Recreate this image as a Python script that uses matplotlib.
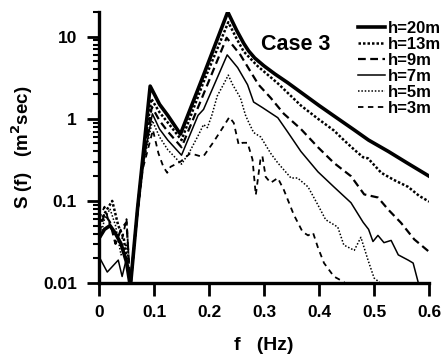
import matplotlib
matplotlib.use('Agg')
import matplotlib.pyplot as plt
from matplotlib.ticker import LogLocator, FixedLocator, FixedFormatter, NullFormatter

plt.rcParams['font.family'] = ['Liberation Sans', 'DejaVu Sans']
plt.rcParams['font.weight'] = 'bold'

# wave spectra at different heights
f_h20 = [0, 0.01, 0.02, 0.03, 0.04, 0.05, 0.057, 0.07, 0.08, 0.093, 0.11, 0.125, 0.148, 0.19,
         0.234, 0.25, 0.263, 0.272, 0.283, 0.30, 0.32, 0.343, 0.367, 0.40, 0.43, 0.464, 0.49,
         0.526, 0.56, 0.60]
s_h20 = [0.035, 0.045, 0.05, 0.04, 0.03, 0.018, 0.009, 0.08, 0.35, 2.5, 1.5, 1.1, 0.65, 3.4,
         20, 12, 8.3, 6.7, 5.5, 4.4, 3.5, 2.75, 2.1, 1.45, 1.05, 0.73, 0.55,
         0.40, 0.29, 0.20]

f_h13 = [0, 0.01, 0.024, 0.035, 0.045, 0.057, 0.07, 0.08, 0.095, 0.11, 0.125, 0.15, 0.19,
         0.235, 0.25, 0.263, 0.288, 0.325, 0.367, 0.398, 0.427, 0.445, 0.464, 0.48, 0.489,
         0.513, 0.536, 0.562, 0.582, 0.60]
s_h13 = [0.05, 0.07, 0.1, 0.05, 0.035, 0.009, 0.08, 0.33, 1.75, 1.2, 0.9, 0.55, 2.8,
         15, 9.5, 6.6, 4.4, 2.7, 1.45, 1.0, 0.72, 0.55, 0.42, 0.34, 0.33,
         0.22, 0.18, 0.148, 0.115, 0.098]

f_h9 = [0, 0.01, 0.02, 0.03, 0.04, 0.05, 0.057, 0.07, 0.08, 0.096, 0.11, 0.125, 0.15, 0.19,
        0.232, 0.257, 0.276, 0.29, 0.312, 0.336, 0.367, 0.398, 0.427, 0.458, 0.482, 0.507,
        0.526, 0.549, 0.573, 0.60]
s_h9 = [0.04, 0.07, 0.055, 0.03, 0.045, 0.055, 0.009, 0.075, 0.3, 1.4, 0.95, 0.7, 0.45, 2.0,
        9.7, 6.0, 3.7, 2.6, 1.8, 1.15, 0.75, 0.45, 0.29, 0.2, 0.12, 0.11,
        0.078, 0.054, 0.034, 0.024]

f_h7 = [0, 0.015, 0.035, 0.042, 0.05, 0.057, 0.07, 0.08, 0.097, 0.11, 0.125, 0.15, 0.18, 0.19,
        0.233, 0.252, 0.27, 0.281, 0.297, 0.325, 0.343, 0.367, 0.398, 0.427, 0.458, 0.48,
        0.49, 0.498, 0.507, 0.518, 0.531, 0.544, 0.562, 0.571, 0.58, 0.59]
s_h7 = [0.021, 0.0136, 0.019, 0.012, 0.02, 0.009, 0.07, 0.28, 1.15, 0.75, 0.55, 0.36, 1.1, 1.3,
        6.0, 4.2, 2.6, 1.6, 1.37, 1.03, 0.69, 0.40, 0.226, 0.148, 0.095, 0.055,
        0.045, 0.032, 0.038, 0.031, 0.033, 0.022, 0.019, 0.0175, 0.0103, 0.006]

f_h5 = [0, 0.01, 0.02, 0.03, 0.04, 0.05, 0.057, 0.07, 0.08, 0.097, 0.11, 0.125, 0.15, 0.165,
        0.18, 0.19, 0.197, 0.205, 0.215, 0.226, 0.235, 0.243, 0.257, 0.266, 0.27, 0.281,
        0.294, 0.312, 0.325, 0.349, 0.361, 0.38, 0.398, 0.412, 0.434, 0.445, 0.464, 0.476,
        0.489, 0.5, 0.509, 0.52]
s_h5 = [0.03, 0.06, 0.08, 0.05, 0.022, 0.03, 0.009, 0.07, 0.27, 0.95, 0.6, 0.42, 0.28, 0.4,
        0.62, 0.85, 0.78, 1.1, 1.9, 2.6, 3.4, 2.6, 1.8, 1.12, 0.97, 0.68,
        0.6, 0.38, 0.29, 0.19, 0.19, 0.148, 0.089, 0.059, 0.048, 0.029, 0.025, 0.036,
        0.019, 0.0115, 0.0103, 0.007]

f_h3 = [0, 0.01, 0.02, 0.03, 0.04, 0.05, 0.057, 0.07, 0.08, 0.098, 0.108, 0.117, 0.124, 0.13,
        0.148, 0.166, 0.184, 0.19, 0.208, 0.226, 0.237, 0.245, 0.254, 0.261, 0.27, 0.279,
        0.285, 0.294, 0.297, 0.303, 0.312, 0.325, 0.336, 0.354, 0.37, 0.38, 0.389, 0.398,
        0.409, 0.427, 0.445, 0.455]
s_h3 = [0.06, 0.085, 0.05, 0.04, 0.03, 0.06, 0.009, 0.07, 0.25, 0.73, 0.38, 0.26, 0.22, 0.26,
        0.30, 0.38, 0.35, 0.35, 0.52, 0.8, 1.05, 0.89, 0.48, 0.51, 0.51, 0.32,
        0.118, 0.34, 0.35, 0.196, 0.166, 0.19, 0.136, 0.068, 0.042, 0.038, 0.041, 0.027,
        0.0175, 0.012, 0.0103, 0.007]

x_ticks = [0, 0.1, 0.2, 0.3, 0.4, 0.5, 0.6]
x_labels = ['0', '0.1', '0.2', '0.3', '0.4', '0.5', '0.6']
y_ticks = [0.01, 0.1, 1, 10]
y_labels = ['0.01', '0.1', '1', '10']

fig = plt.figure(figsize=(4.41, 3.59), dpi=100)
ax = fig.add_axes([0.2245, 0.2117, 0.7485, 0.755])

ax.plot(f_h20, s_h20, color='black', lw=2.6, label='h=20m')
ax.plot(f_h13, s_h13, color='black', lw=1.8, dashes=(1, 0.8), label='h=13m')
ax.plot(f_h9, s_h9, color='black', lw=1.6, dashes=(3.5, 2), label='h=9m')
ax.plot(f_h7, s_h7, color='black', lw=1.1, label='h=7m')
ax.plot(f_h5, s_h5, color='black', lw=1.1, dashes=(1, 1.2), label='h=5m')
ax.plot(f_h3, s_h3, color='black', lw=1.3, dashes=(3, 2.5), label='h=3m')

ax.set_yscale('log')
ax.set_xlim(0, 0.6)
ax.set_ylim(0.01, 20)

for side in ['top', 'right']:
    ax.spines[side].set_visible(False)
for side in ['left', 'bottom']:
    ax.spines[side].set_linewidth(2.4)

ax.xaxis.set_major_locator(FixedLocator(x_ticks))
ax.xaxis.set_major_formatter(FixedFormatter(x_labels))
ax.yaxis.set_major_locator(FixedLocator(y_ticks))
ax.yaxis.set_major_formatter(FixedFormatter(y_labels))
ax.yaxis.set_minor_locator(LogLocator(base=10, subs=range(2, 10)))
ax.yaxis.set_minor_formatter(NullFormatter())

ax.tick_params(axis='both', which='major', direction='out', length=9, width=2,
               labelsize=12.5)
ax.tick_params(axis='x', which='major', pad=7)
ax.tick_params(axis='y', which='major', pad=7)
ax.tick_params(axis='y', which='minor', direction='out', length=4.5, width=1.5)

ax.set_xlabel('f   (Hz)', fontsize=14, fontweight='bold', labelpad=12)
ax.set_ylabel('S (f)   (m$^\\mathbf{2}$sec)', fontsize=13.5, fontweight='bold', labelpad=6)

ax.text(0.294, 8.0, 'Case 3', fontsize=15.5, fontweight='bold', va='center')

leg = ax.legend(loc='upper right', bbox_to_anchor=(1.067, 1.004), frameon=False,
                fontsize=12, handlelength=1.6, handletextpad=0.2, labelspacing=0.06,
                borderpad=0.1)

fig.savefig('out.png', dpi=100)
